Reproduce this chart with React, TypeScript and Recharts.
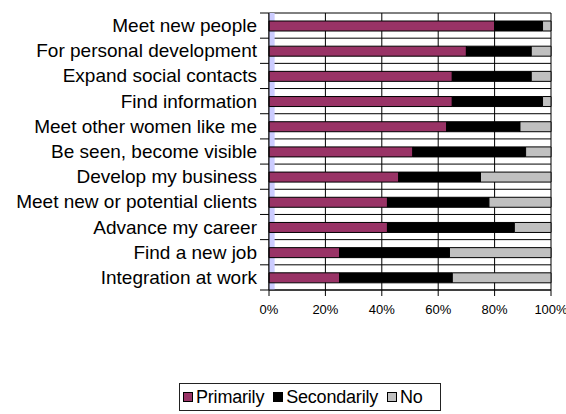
import React from "react";
import { BarChart, Bar, XAxis, YAxis, CartesianGrid, Legend, ReferenceArea } from "recharts";

const categories = [
  "Meet new people",
  "For personal development",
  "Expand social contacts",
  "Find information",
  "Meet other women like me",
  "Be seen, become visible",
  "Develop my business",
  "Meet new or potential clients",
  "Advance my career",
  "Find a new job",
  "Integration at work",
];
const primarily = [80, 70, 65, 65, 63, 51, 46, 42, 42, 25, 25];
const secondarily = [17, 23, 28, 32, 26, 40, 29, 36, 45, 39, 40];
const no = [3, 7, 7, 3, 11, 9, 25, 22, 13, 36, 35];
const xTicks = [0, 20, 40, 60, 80, 100];
const seriesNames = ["Primarily", "Secondarily", "No"];
const seriesColors = ["#993366", "#000000", "#C0C0C0"];

const data = categories.map((c, i) => ({
  name: c,
  Primarily: primarily[i],
  Secondarily: secondarily[i],
  No: no[i],
}));

const W = 566;
const H = 414;
const MARGIN = { top: 13, right: 15, left: 0, bottom: 64 };
const YAXIS_W = 269;
const XAXIS_H = 30;
const LEGEND_H = 30;
const PLOT_H = H - MARGIN.top - MARGIN.bottom - XAXIS_H - LEGEND_H;
const BAND = PLOT_H / categories.length;
const FONT = "'Liberation Sans', Arial, Helvetica, sans-serif";

const YTick = (props: any) => {
  const { x, y, payload, index } = props;
  const axisX = x + 12;
  const isLast = index === categories.length - 1;
  return (
    <g>
      <text
        x={x}
        y={y}
        textAnchor="end"
        dominantBaseline="central"
        fontSize={19}
        fontFamily={FONT}
        fill="#000"
      >
        {payload.value}
      </text>
      <line x1={axisX - 9} x2={axisX} y1={y - BAND / 2} y2={y - BAND / 2} stroke="#000" />
      {isLast && (
        <line x1={axisX - 9} x2={axisX} y1={y + BAND / 2} y2={y + BAND / 2} stroke="#000" />
      )}
    </g>
  );
};

const LegendBox = () => (
  <div
    style={{
      position: "absolute",
      left: 0,
      top: 0,
      border: "1px solid #222",
      width: 257,
      height: 26,
      boxSizing: "content-box",
      display: "flex",
      alignItems: "center",
      fontFamily: FONT,
      fontSize: 18,
      color: "#000",
      paddingLeft: 3,
      whiteSpace: "nowrap",
      background: "#fff",
    }}
  >
    {seriesNames.map((n, i) => (
      <div key={n} style={{ display: "flex", alignItems: "center", marginRight: 9, flexShrink: 0 }}>
        <span
          style={{
            display: "inline-block",
            width: 8,
            height: 8,
            background: seriesColors[i],
            border: "1px solid #000",
            marginRight: 3,
          }}
        />
        <span style={{ letterSpacing: -0.2 }}>{n}</span>
      </div>
    ))}
  </div>
);

export default function App() {
  return (
    <div style={{ position: "absolute", left: 0, top: 0, width: W, height: H, background: "#fff" }}>
      <BarChart
        width={W}
        height={H}
        data={data}
        layout="vertical"
        margin={MARGIN}
        barSize={10}
      >
        <CartesianGrid
          stroke="#000"
          strokeWidth={1}
          horizontalCoordinatesGenerator={({ offset }: any) =>
            Array.from({ length: categories.length + 1 }, (_, i) => offset.top + (i * offset.height) / categories.length)
          }
        />
        <ReferenceArea x1={0} x2={2} fill="#CCCCFF" fillOpacity={1} stroke="none" />
        <XAxis
          type="number"
          domain={[0, 100]}
          ticks={xTicks}
          tickFormatter={(v: number) => `${v}%`}
          height={XAXIS_H}
          stroke="#000"
          tickSize={6}
          tickMargin={9}
          tick={{ fontSize: 13, fontFamily: FONT, fill: "#000" }}
          interval={0}
        />
        <YAxis
          type="category"
          dataKey="name"
          width={YAXIS_W}
          stroke="#000"
          tickLine={false}
          tickSize={0}
          tickMargin={12}
          tick={<YTick />}
          interval={0}
        />
        <Legend
          content={<LegendBox />}
          verticalAlign="bottom"
          height={LEGEND_H}
          wrapperStyle={{ left: 179, top: 383, bottom: "auto", width: 265, overflow: "visible" }}
        />
        {seriesNames.map((n, i) => (
          <Bar
            key={n}
            dataKey={n}
            stackId="a"
            fill={seriesColors[i]}
            stroke="#000"
            strokeWidth={1}
            isAnimationActive={false}
          />
        ))}
      </BarChart>
    </div>
  );
}
